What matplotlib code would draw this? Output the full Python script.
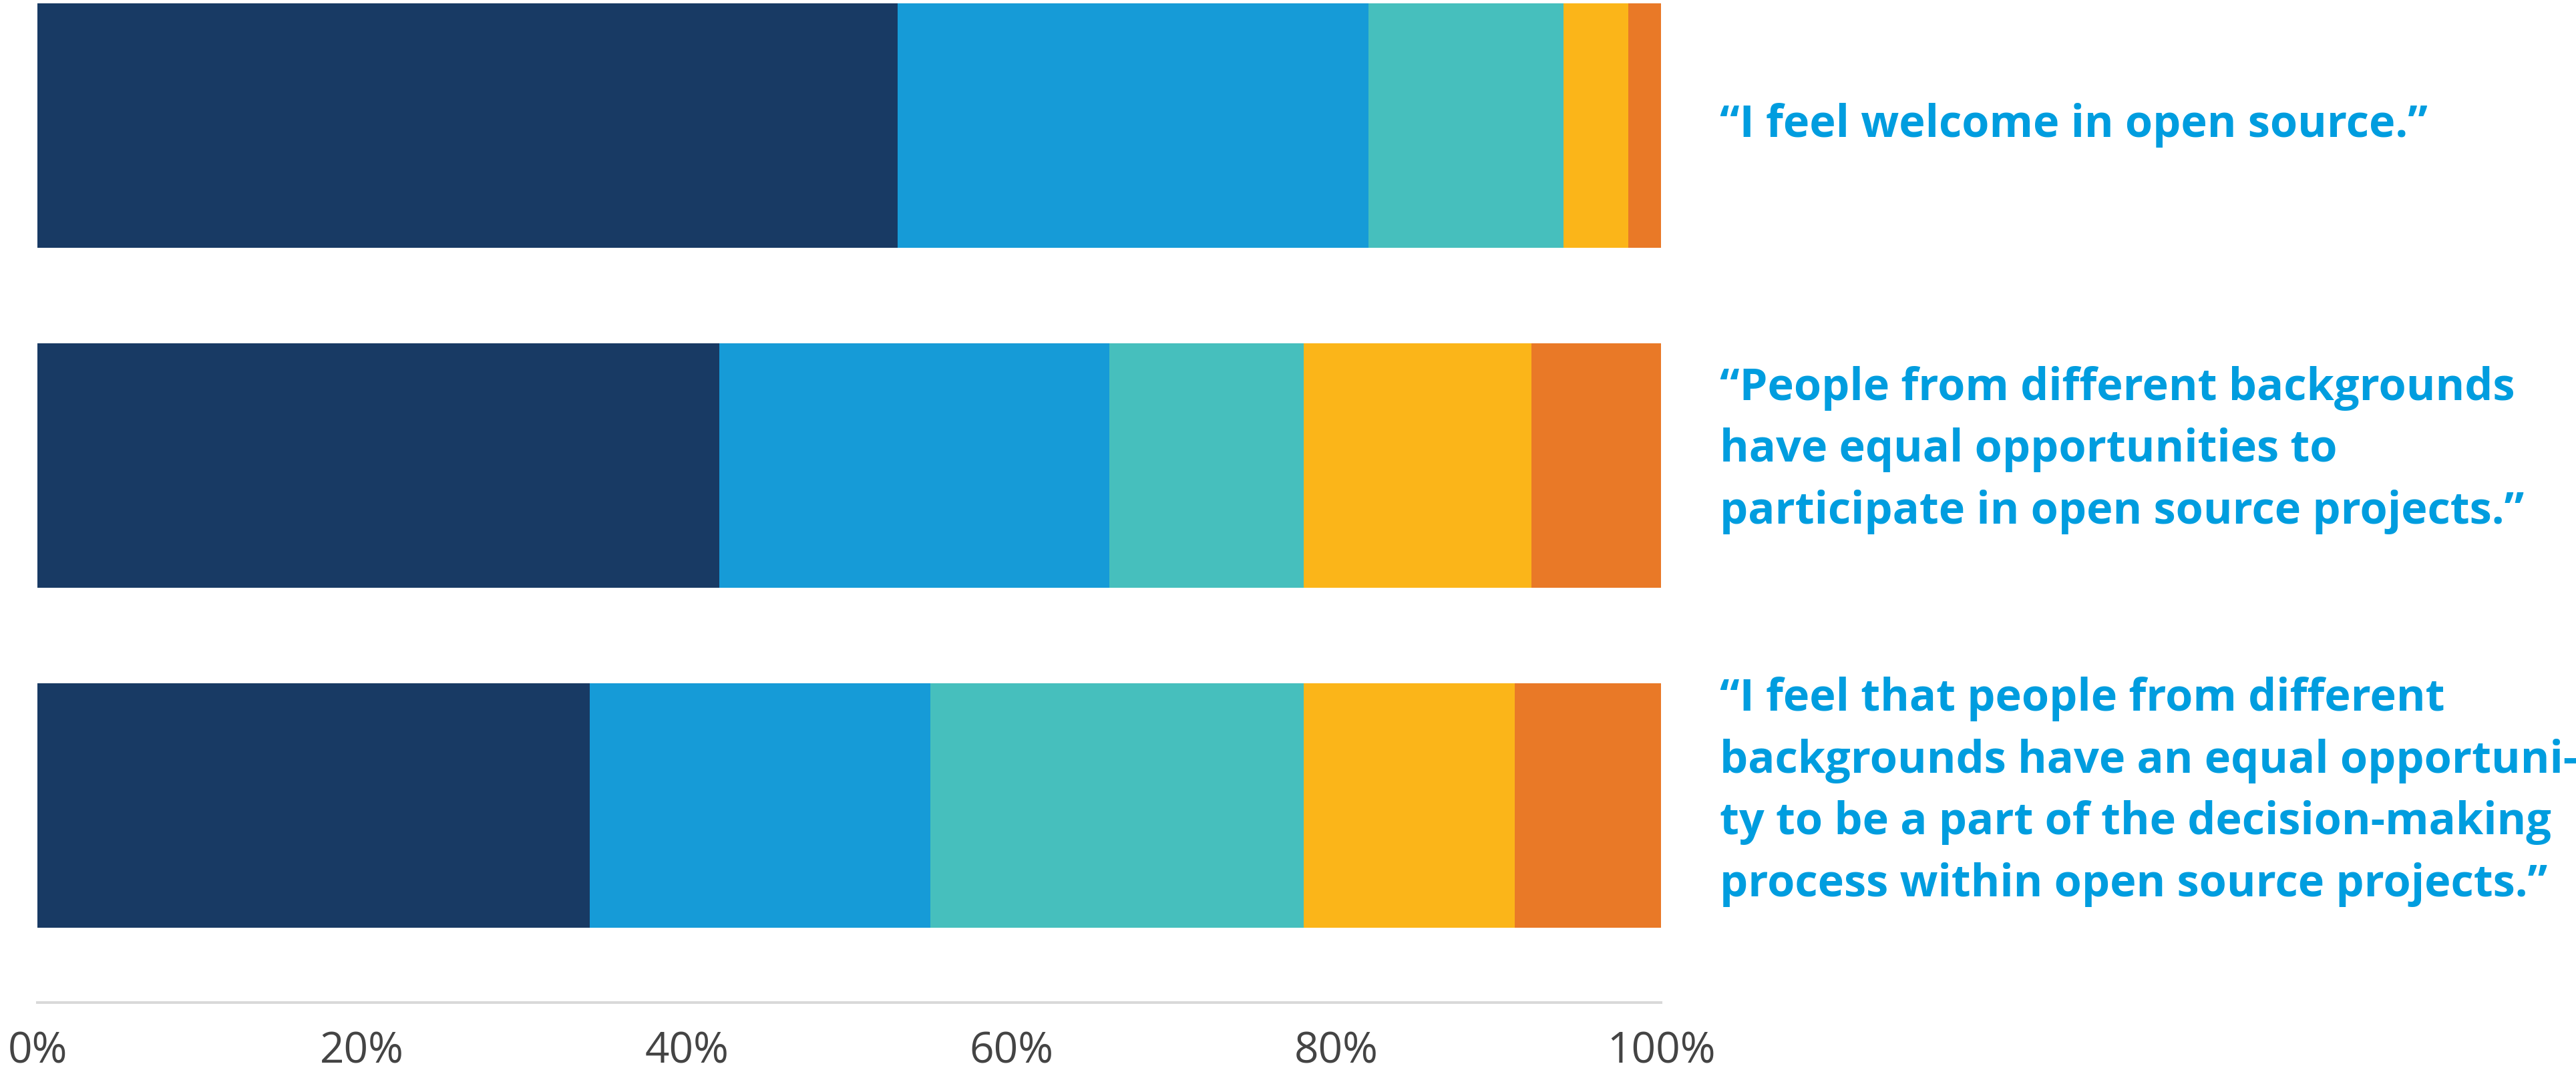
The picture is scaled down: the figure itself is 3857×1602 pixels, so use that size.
import matplotlib.pyplot as plt
import numpy as np

# Anteile je Aussage (in %), von "stimme voll zu" bis "stimme gar nicht zu"
statements = [
    '\u201cI feel welcome in open source.\u201d',
    '\u201cPeople from different backgrounds\nhave equal opportunities to\nparticipate in open source projects.\u201d',
    '\u201cI feel that people from different\nbackgrounds have an equal opportuni-\nty to be a part of the decision-making\nprocess within open source projects.\u201d',
]
strongly_agree = [53, 42, 34]
agree = [29, 24, 21]
neutral = [12, 12, 23]
disagree = [4, 14, 13]
strongly_disagree = [2, 8, 9]
tick_vals = [0, 20, 40, 60, 80, 100]
tick_labels = ['0%', '20%', '40%', '60%', '80%', '100%']

colors = ['#183A64', '#169BD7', '#46BFBD', '#FBB519', '#E97927']
text_shift = [0.0, -0.045, -0.04]  # kleine vertikale Korrektur der Textbloecke

plt.rcParams['font.family'] = ['Open Sans', 'DejaVu Sans']

fig = plt.figure(figsize=(38.57, 16.02), dpi=100)
ax = fig.add_axes([0.01452, 0.063, 0.6303, 0.937])

y = np.arange(len(statements))
left = np.zeros(len(statements))
for vals, c in zip([strongly_agree, agree, neutral, disagree, strongly_disagree], colors):
    ax.barh(y, vals, left=left, height=0.72, color=c, linewidth=0)
    left += np.array(vals)

ax.set_xlim(0, 100)
ax.set_ylim(2.58, -0.369)

for spine in ['top', 'right', 'left']:
    ax.spines[spine].set_visible(False)
ax.spines['bottom'].set_color('#d9d9d9')
ax.spines['bottom'].set_linewidth(2.9)

ax.set_yticks([])
ax.set_xticks(tick_vals)
ax.set_xticklabels(tick_labels)
ax.tick_params(axis='x', length=0, pad=30, labelsize=46, labelcolor='#444444')

# Aussagen rechts neben den Balken
for i, s in enumerate(statements):
    ax.text(103.6, y[i] + text_shift[i], s, va='center', ha='left', fontsize=48, fontweight='bold',
            color='#009DDF', linespacing=1.5, clip_on=False)

fig.savefig('out.png', dpi=100)
